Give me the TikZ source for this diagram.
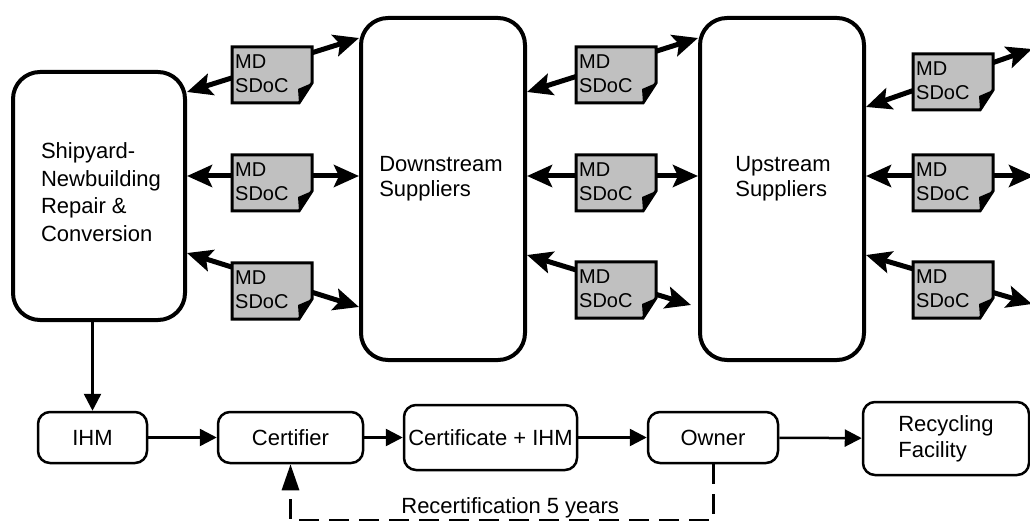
\documentclass[tikz,border=0pt]{standalone}
\usepackage{fontspec}
\setmainfont{Liberation Sans}
\usepackage{tikz}
\usetikzlibrary{arrows.meta}
\usepackage{xcolor}
\definecolor{docgray}{RGB}{192,192,192}

\tikzset{
	bigbox/.style={draw, line width=4pt, rounded corners=27pt, minimum width=164pt, minimum height=342pt},
	smallbox/.style={draw, line width=2.5pt, rounded corners=12pt, minimum height=51pt, align=left, font=\fontsize{22}{26}\selectfont},
	boxtext/.style={align=left, inner sep=0pt, font=\fontsize{22}{25}\selectfont},
	docshape/.style={draw, line width=3pt, fill=docgray},
	doctext/.style={anchor=north west, inner sep=0pt, align=left, font=\fontsize{20}{24}\selectfont},
	wide/.style={line width=5pt, {Stealth[length=25pt,width=22pt,inset=5pt]}-{Stealth[length=25pt,width=22pt,inset=5pt]}},
	flowarrow/.style={line width=2.5pt, -{Triangle[length=17pt,width=17pt]}},
	recert/.style={line width=3pt, dash pattern=on 20pt off 10pt, -{Triangle[length=26pt,width=17pt]}}
}

\begin{document}
\begin{tikzpicture}[x=1pt,y=-1pt]

	\useasboundingbox (0,0) rectangle (1030,521);

	% supply chain
	\node[bigbox, minimum width=172pt, minimum height=248pt] (ship) at (99,196) {};
	\node[bigbox] (down) at (443,189) {};
	\node[bigbox] (up) at (782,189) {};
	\node[boxtext, font=\fontsize{22}{27.5}\selectfont] (shiptxt) at (101,192) {Shipyard-\\Newbuilding\\Repair \&\\Conversion};
	\node[boxtext] (downtxt) at (441,179) {Downstream\\Suppliers};
	\node[boxtext] (uptxt) at (783,179) {Upstream\\Suppliers};

	\coordinate (out1) at (1032,49);
	\coordinate (out2) at (1034,176);
	\coordinate (out3) at (1032,304);

	\draw[wide] ([yshift=104pt]ship.east) -- ([yshift=151pt]down.west);
	\draw[wide] ([yshift=20pt]ship.east) -- ([yshift=13pt]down.west);
	\draw[wide] ([yshift=-57pt]ship.east) -- ([yshift=-118pt]down.west);

	\draw[wide] ([yshift=97pt]down.east) -- ([yshift=151pt]up.west);
	\draw[wide] ([yshift=13pt]down.east) -- ([yshift=13pt]up.west);
	\draw[wide] ([yshift=-66pt]down.east) -- ([yshift=-116pt,xshift=-7pt]up.west);

	\draw[wide] ([yshift=82pt]up.east) -- (out1);
	\draw[wide] ([yshift=13pt]up.east) -- (out2);
	\draw[wide] ([yshift=-66pt]up.east) -- (out3);

	% MD / SDoC documents
	\foreach \n/\x/\y in {1/232/47,2/232/155,3/232/263,4/576/47,5/576/155,6/576/262,7/913/54,8/913/155,9/913/262}{
		\draw[docshape] (\x,\y) -- ++(80,0) -- ++(0,36) -- ++(-13,20) -- ++(-67,0) -- cycle;
		\fill (\x+80,\y+36) -- (\x+66,\y+42) -- (\x+67,\y+56) -- cycle;
		\node[doctext] (md\n) at (\x+3,\y+8) {MD\\SDoC};
	}

	% certification
	\node[smallbox, minimum width=109pt] (ihm) at (92.5,437.5) {IHM};
	\node[smallbox, minimum width=145pt] (cert) at (290.5,437.5) {Certifier};
	\node[smallbox, minimum width=173pt, minimum height=65pt] (certihm) at (490.5,437.5) {Certificate + IHM};
	\node[smallbox, minimum width=130pt] (owner) at (713,437.5) {Owner};
	\node[smallbox, minimum width=166pt, minimum height=73pt] (recyc) at (946,438.5) {Recycling\\Facility};

	\draw[flowarrow] (ihm.north |- ship.south) -- (ihm.north);
	\draw[flowarrow] (ihm) -- (cert);
	\draw[flowarrow] (cert) -- (certihm);
	\draw[flowarrow] (certihm) -- (owner);
	\draw[flowarrow] (owner) -- (recyc);

	\draw[recert] (owner.south) -- ++(0,56) -| (cert.south)
		node[pos=0.24, above=1pt, inner sep=0pt, font=\fontsize{22}{26}\selectfont] (recerttxt) {Recertification 5 years};

\end{tikzpicture}
\end{document}
